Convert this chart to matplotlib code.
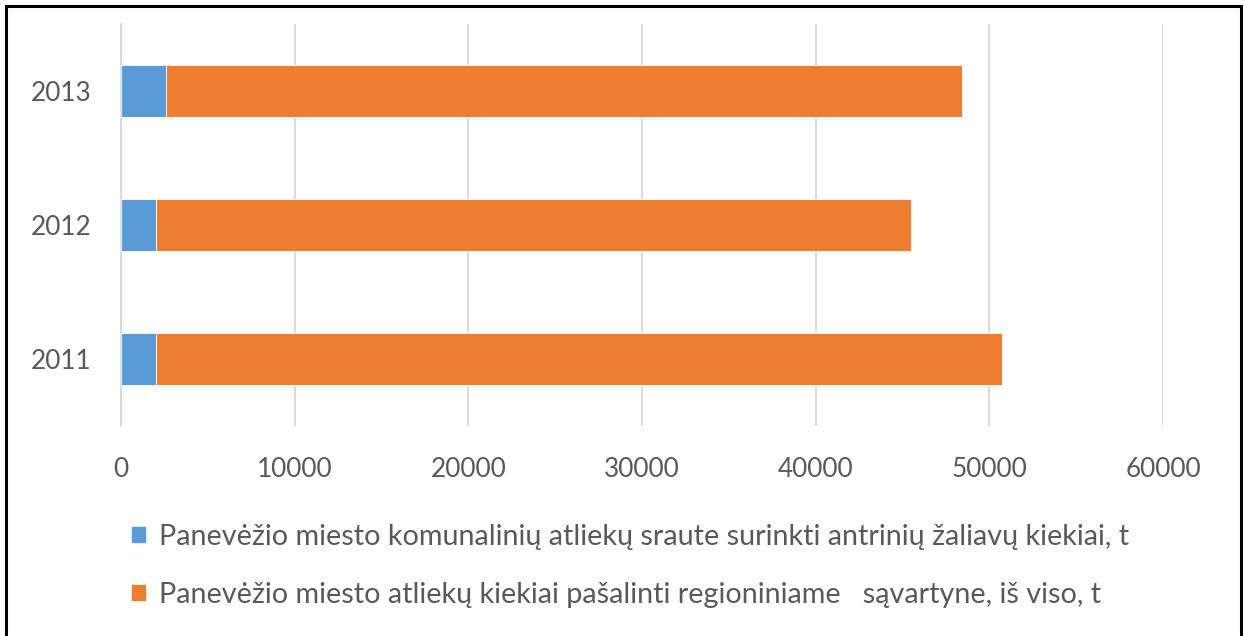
import matplotlib.pyplot as plt
import matplotlib.patches as mpatches
import numpy as np

years = ['2011', '2012', '2013']
antrines = [2030, 2030, 2600]
pasalinta = [48680, 43480, 45830]
labels = ['Panevėžio miesto komunalinių atliekų sraute surinkti antrinių žaliavų kiekiai, t',
          'Panevėžio miesto atliekų kiekiai pašalinti regioniniame   sąvartyne, iš viso, t']
colors = ['#5B9BD5', '#ED7D31']
xticks = [0, 10000, 20000, 30000, 40000, 50000, 60000]

plt.rcParams['font.family'] = ['Lato', 'DejaVu Sans']
txt = '#595959'

fig = plt.figure(figsize=(12.44, 6.36), dpi=100)
ax = fig.add_axes([121 / 1244, 1 - 426 / 636, (1163 - 121) / 1244, 402 / 636])

y = np.arange(len(years))
ax.barh(y, antrines, 0.39, color=colors[0], edgecolor='white', linewidth=0.6, label=labels[0], zorder=3)
ax.barh(y, pasalinta, 0.39, left=antrines, color=colors[1], edgecolor='white', linewidth=0.6,
        label=labels[1], zorder=3)

ax.set_xlim(0, 60000)
ax.set_ylim(-0.5, 2.5)
ax.set_xticks(xticks)
ax.set_xticklabels([str(t) for t in xticks])
ax.set_yticks(y)
ax.set_yticklabels(years)
ax.tick_params(axis='both', length=0, labelsize=18.8, colors=txt)
ax.tick_params(axis='x', pad=22)
ax.tick_params(axis='y', pad=21)
ax.xaxis.grid(True, color='#d9d9d9', linewidth=1.3, zorder=0)
for s in ['top', 'right', 'bottom']:
    ax.spines[s].set_visible(False)
ax.spines['left'].set_color('#d9d9d9')
ax.spines['left'].set_linewidth(1.3)

handles = [mpatches.Patch(color=c) for c in colors]
leg = fig.legend(handles, labels, loc='upper left', bbox_to_anchor=(132 / 1244, 1 - 524 / 636),
                 frameon=False, fontsize=20.7, labelcolor=txt, handlelength=0.45, handleheight=0.45,
                 handletextpad=0.49, labelspacing=1.1, borderpad=0, borderaxespad=0)

# outer frame
fig.patches.append(mpatches.Rectangle((6 / 1244, -0.05), (1241 - 6) / 1244, 1.05 - 6 / 636,
                                      transform=fig.transFigure, fill=False, edgecolor='black',
                                      linewidth=2.2))

fig.savefig('out.png', dpi=100)
